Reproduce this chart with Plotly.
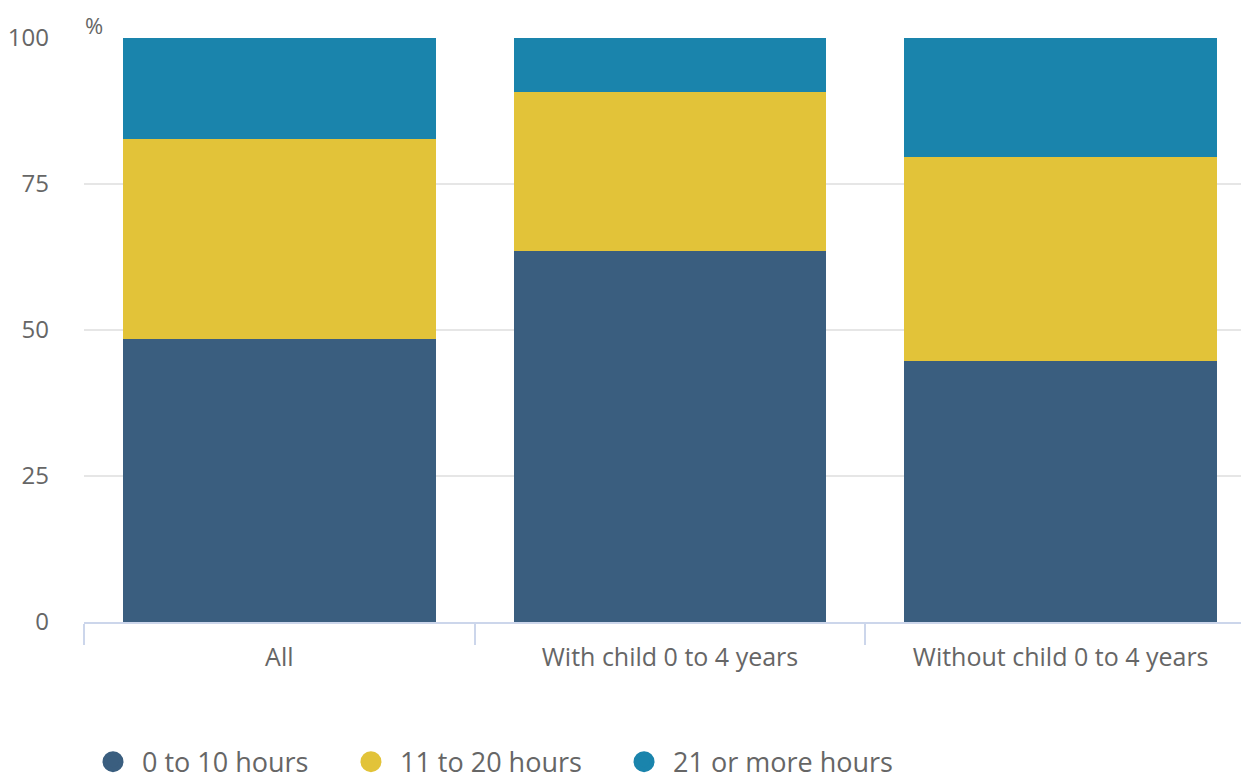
import plotly.graph_objects as go

categories = ["All", "With child 0 to 4 years", "Without child 0 to 4 years"]
series_names = ["0 to 10 hours", "11 to 20 hours", "21 or more hours"]
hours_0_10 = [48.5, 63.5, 44.7]
hours_11_20 = [34.2, 27.3, 34.9]
hours_21_plus = [17.3, 9.2, 20.4]
colors = ["#3a5e7f", "#e2c339", "#1a84ac"]

legend_ids = ["legend", "legend2", "legend3"]
legend_x = [0.0, 0.2201, 0.4531]

fig = go.Figure()
for name, vals, col in zip(series_names, [hours_0_10, hours_11_20, hours_21_plus], colors):
    fig.add_trace(go.Bar(x=categories, y=vals, name=name, marker=dict(color=col, line=dict(width=0)),
                         showlegend=False))
for name, col, lid in zip(series_names, colors, legend_ids):
    fig.add_trace(go.Scatter(x=[None], y=[None], mode="markers", name=name, legend=lid,
                             marker=dict(symbol="circle", size=16, color=col, line=dict(color=col, width=5)),
                             showlegend=True))

legend_style = dict(orientation="h", xanchor="left", y=-0.198, yanchor="top",
                    font=dict(size=27, color="#666666"), itemwidth=48, bgcolor="rgba(0,0,0,0)")

# The page body adds an 8px offset; margins compensate so the plot lands where the reference has it.
fig.update_layout(
    width=1249, height=780,
    barmode="stack", bargap=0.2,
    plot_bgcolor="white", paper_bgcolor="white",
    font=dict(family="Open Sans", color="#666666", size=20),
    margin=dict(l=76, r=1, t=30, b=166, autoexpand=False),
    legend=dict(x=legend_x[0], **legend_style),
    legend2=dict(x=legend_x[1], **legend_style),
    legend3=dict(x=legend_x[2], **legend_style),
    annotations=[dict(text="%", xref="paper", yref="paper", x=0.0, y=1, xanchor="left", yanchor="bottom",
                      yshift=-3, borderpad=0, showarrow=False, font=dict(size=22, color="#666666"))],
)
fig.update_xaxes(showline=True, linecolor="#ccd6eb", linewidth=2, ticks="outside", tickson="boundaries",
                 ticklen=21, tickcolor="#ccd6eb", tickwidth=2, showgrid=False, ticklabelstandoff=12,
                 tickfont=dict(size=25, color="#666666"))
fig.update_yaxes(range=[0, 100], tickvals=[0, 25, 50, 75, 100], showgrid=True, gridcolor="#e6e6e6",
                 gridwidth=2, zeroline=False, ticklabelstandoff=34, tickfont=dict(size=24, color="#666666"))

fig.write_html("out.html")
